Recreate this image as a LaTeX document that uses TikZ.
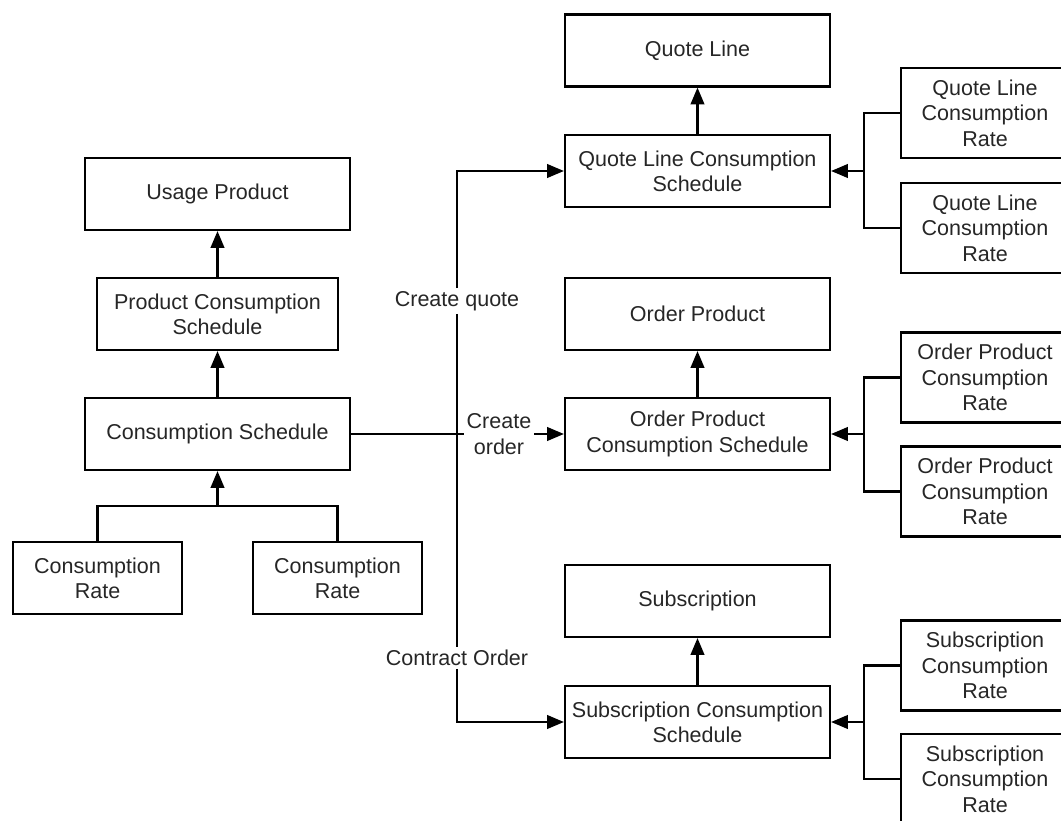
\documentclass[tikz,border=0pt]{standalone}
\usepackage{fontspec}
\setmainfont{Liberation Sans}
\usetikzlibrary{arrows.meta,positioning}

\begin{document}
\begin{tikzpicture}[
    x=0.025cm, y=-0.025cm,
    every node/.style={font=\fontsize{15.3}{18}\selectfont, text=black!85},
    entity/.style={
        rectangle,
        draw=black,
        line width=1.5pt,
        align=center,
        inner sep=2pt,
        minimum width=6.625cm,
        minimum height=1.8cm
    },
    rate/.style={entity, minimum width=4.225cm},
    subrate/.style={entity, minimum width=4.2cm, minimum height=2.25cm},
    flow/.style={align=center, inner sep=2pt},
    link/.style={line width=1.5pt},
    arrow/.style={-{Triangle[length=0.42cm, width=0.34cm]}, line width=1.5pt}
]
    \useasboundingbox (0,0) rectangle (1061,821);

    % left: product side
    \node[entity] (usage) at (217.5,194) {Usage Product};
    \node[entity, minimum width=6.025cm] (pcs) at (217.5,314)
        {Product Consumption\\Schedule};
    \node[entity] (cs) at (217.5,434) {Consumption Schedule};
    \node[rate] (rateleft) at (97.5,578) {Consumption\\Rate};
    \node[rate] (rateright) at (337.5,578) {Consumption\\Rate};
    \coordinate (ratejoin) at (217.5,506);

    % right: quote, order, subscription
    \node[entity] (quoteline) at (697.5,50.5) {Quote Line};
    \node[entity] (qlcs) at (697.5,171) {Quote Line Consumption\\Schedule};
    \node[subrate] (qlrateA) at (985,113) {Quote Line\\Consumption\\Rate};
    \node[subrate] (qlrateB) at (985,228) {Quote Line\\Consumption\\Rate};
    \coordinate (qljoin) at (864,171);

    \node[entity] (orderproduct) at (697.5,314) {Order Product};
    \node[entity] (opcs) at (697.5,434) {Order Product\\Consumption Schedule};
    \node[subrate] (oprateA) at (985,377.5) {Order Product\\Consumption\\Rate};
    \node[subrate] (oprateB) at (985,491.5) {Order Product\\Consumption\\Rate};
    \coordinate (opjoin) at (864,434);

    \node[entity] (subscription) at (697.5,601) {Subscription};
    \node[entity] (scs) at (697.5,722) {Subscription Consumption\\Schedule};
    \node[subrate] (srateA) at (985,665.5) {Subscription\\Consumption\\Rate};
    \node[subrate] (srateB) at (985,779) {Subscription\\Consumption\\Rate};
    \coordinate (sjoin) at (864,722);

    % flow labels
    \node[flow] (createquote) at (457,301) {Create quote};
    \node[flow] (createorder) at (499,434) {Create\\order};
    \node[flow] (contractorder) at (457,658) {Contract Order};

    \draw[arrow] (pcs) -- (usage);
    \draw[arrow] (cs) -- (pcs);
    \draw[link] (rateleft) |- (ratejoin) -| (rateright);
    \draw[arrow] (ratejoin) -- (cs);

    \draw[arrow] (createquote) |- (qlcs);
    \draw[link] (createquote) -- (contractorder);
    \draw[arrow] (contractorder) |- (scs);
    \draw[link] (cs) -- (createorder);
    \draw[arrow] (createorder) -- (opcs);

    \draw[arrow] (qlcs) -- (quoteline);
    \draw[link] (qlrateA) -| (qljoin) |- (qlrateB);
    \draw[arrow] (qljoin) -- (qlcs);

    \draw[arrow] (opcs) -- (orderproduct);
    \draw[link] (oprateA) -| (opjoin) |- (oprateB);
    \draw[arrow] (opjoin) -- (opcs);

    \draw[arrow] (scs) -- (subscription);
    \draw[link] (srateA) -| (sjoin) |- (srateB);
    \draw[arrow] (sjoin) -- (scs);
\end{tikzpicture}
\end{document}
